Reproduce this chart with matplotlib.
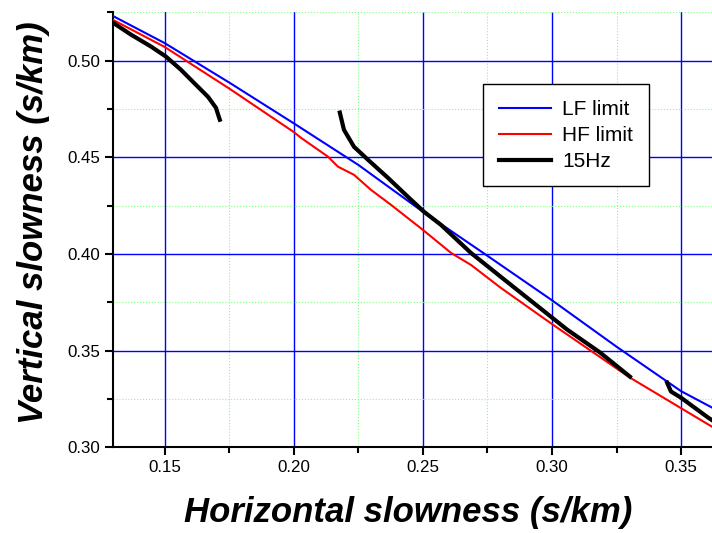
import matplotlib
matplotlib.use("Agg")
import matplotlib.pyplot as plt
from matplotlib.ticker import MultipleLocator

plt.rcParams['font.family'] = ['Liberation Sans', 'DejaVu Sans']

# LF limit
lf_x = [0.13, 0.15, 0.175, 0.20, 0.225, 0.25, 0.275, 0.30, 0.325, 0.35, 0.362]
lf_y = [0.523, 0.509, 0.4886, 0.4675, 0.446, 0.4218, 0.399, 0.376, 0.352, 0.329, 0.3205]

# HF limit
hf_x = [0.13, 0.15, 0.175, 0.20, 0.2027, 0.2132, 0.2171, 0.2233, 0.2298, 0.2376,
        0.25, 0.2609, 0.2686, 0.2802, 0.30, 0.3302, 0.3496, 0.362]
hf_y = [0.521, 0.507, 0.4855, 0.463, 0.4601, 0.4503, 0.4451, 0.4409, 0.4332, 0.4254,
        0.4124, 0.4005, 0.3943, 0.3824, 0.3637, 0.336, 0.3205, 0.3106]

# 15Hz, three branches
b1_x = [0.1298, 0.1368, 0.1446, 0.1504, 0.1562, 0.1612, 0.1667, 0.1698, 0.1709, 0.1713]
b1_y = [0.5197, 0.5135, 0.5073, 0.5021, 0.4953, 0.4886, 0.4813, 0.4756, 0.4710, 0.4694]
b2_x = [0.2178, 0.2194, 0.2233, 0.2287, 0.2364, 0.2442, 0.2504, 0.2570, 0.2686,
        0.2802, 0.3058, 0.3186, 0.3302]
b2_y = [0.4731, 0.4642, 0.4554, 0.4487, 0.4394, 0.4295, 0.4218, 0.4150, 0.4005,
        0.3881, 0.3609, 0.349, 0.3365]
b3_x = [0.3446, 0.3461, 0.35, 0.3605, 0.362]
b3_y = [0.3334, 0.3288, 0.3256, 0.3153, 0.314]

fig = plt.figure(figsize=(7.12, 5.33), dpi=100)
ax = fig.add_axes([0.159, 0.161, 0.841, 0.816])

ax.plot(lf_x, lf_y, color='#0000ff', lw=1.5, label='LF limit', zorder=3)
ax.plot(hf_x, hf_y, color='#ff0000', lw=1.5, label='HF limit', zorder=3)
ax.plot(b1_x, b1_y, color='black', lw=3, label='15Hz', zorder=4)
ax.plot(b2_x, b2_y, color='black', lw=3, zorder=4)
ax.plot(b3_x, b3_y, color='black', lw=3, zorder=4)

ax.set_xlim(0.13, 0.362)
ax.set_ylim(0.30, 0.525)
ax.xaxis.set_major_locator(MultipleLocator(0.05))
ax.xaxis.set_minor_locator(MultipleLocator(0.025))
ax.yaxis.set_major_locator(MultipleLocator(0.05))
ax.yaxis.set_minor_locator(MultipleLocator(0.025))
ax.xaxis.set_major_formatter(plt.FormatStrFormatter('%.2f'))
ax.yaxis.set_major_formatter(plt.FormatStrFormatter('%.2f'))

ax.grid(which='major', color='#0000ff', lw=1.0, ls='-')
ax.grid(which='minor', color='#80ff80', lw=0.8, ls=':')
ax.set_axisbelow(True)

for side in ['top', 'right']:
    ax.spines[side].set_visible(False)
ax.spines['left'].set_linewidth(1.5)
ax.spines['bottom'].set_linewidth(1.5)
ax.tick_params(which='major', direction='out', length=6, width=1.5, labelsize=12.2)
ax.tick_params(which='minor', direction='out', length=4, width=1.5)

ax.set_xlabel('Horizontal slowness (s/km)', fontsize=25, fontweight='bold',
              fontstyle='italic', labelpad=15)
ax.set_ylabel('Vertical slowness (s/km)', fontsize=25, fontweight='bold',
              fontstyle='italic', labelpad=12)
# labels in the original sit slightly off-centre
ax.xaxis.label.set_x(0.493)
ax.yaxis.label.set_y(0.517)

leg = ax.legend(loc='upper left', bbox_to_anchor=(0.618, 0.834), borderaxespad=0,
                fontsize=15, frameon=True, fancybox=False, edgecolor='black',
                framealpha=1, handlelength=2.5, borderpad=0.75, labelspacing=0.33,
                handletextpad=0.55)
leg.get_frame().set_linewidth(1.0)

fig.savefig('out.png', dpi=100)
